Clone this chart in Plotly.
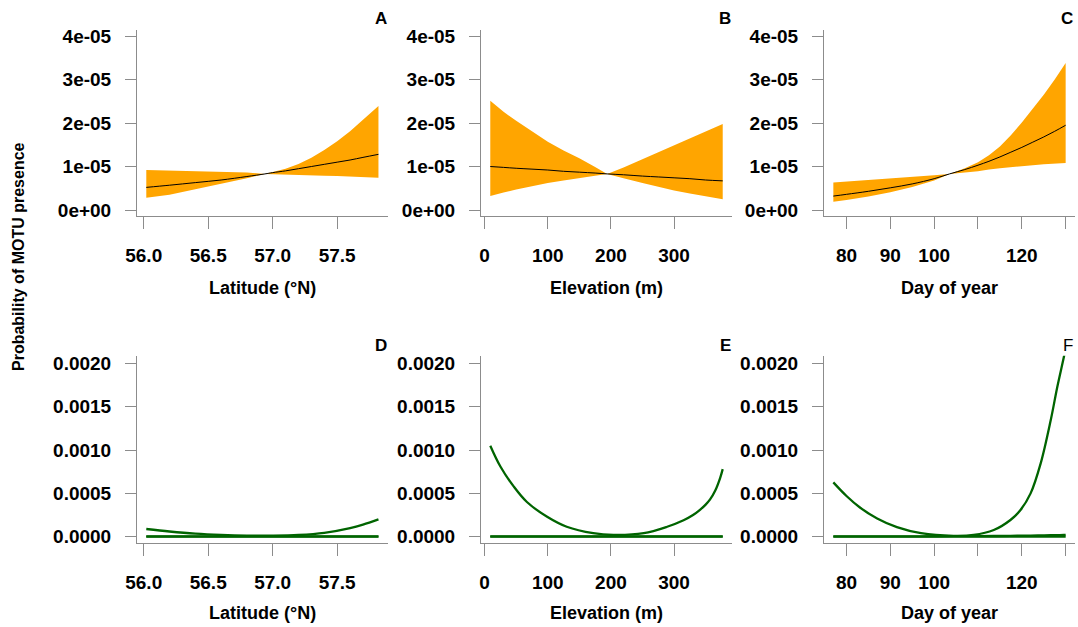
import plotly.graph_objects as go

W, H = 1078, 627

# ---------------- data ----------------
# Top row: probability of presence (mean with 95% CI), units 1e-05
lat_a = [56.02, 56.2, 56.4, 56.6, 56.8, 56.94, 57.0, 57.1, 57.2, 57.3, 57.4, 57.5, 57.6, 57.7, 57.82]
a_mean = [0.52, 0.57, 0.63, 0.69, 0.77, 0.83, 0.86, 0.90, 0.95, 1.00, 1.05, 1.10, 1.15, 1.21, 1.28]
a_upper = [0.92, 0.91, 0.895, 0.88, 0.86, 0.83, 0.87, 0.95, 1.06, 1.20, 1.38, 1.58, 1.81, 2.07, 2.39]
a_lower = [0.28, 0.35, 0.47, 0.60, 0.73, 0.83, 0.825, 0.82, 0.81, 0.80, 0.79, 0.78, 0.77, 0.76, 0.74]

elev_b = [9, 30, 50, 75, 100, 125, 150, 175, 194, 220, 250, 275, 300, 325, 350, 377]
b_mean = [1.00, 0.98, 0.96, 0.94, 0.92, 0.89, 0.87, 0.85, 0.83, 0.81, 0.78, 0.76, 0.74, 0.72, 0.69, 0.67]
b_upper = [2.51, 2.26, 2.05, 1.80, 1.57, 1.37, 1.19, 0.99, 0.83, 0.98, 1.17, 1.33, 1.50, 1.66, 1.82, 1.98]
b_lower = [0.32, 0.40, 0.47, 0.55, 0.62, 0.68, 0.74, 0.79, 0.83, 0.73, 0.62, 0.53, 0.45, 0.38, 0.31, 0.25]

day_c = [77, 80, 85, 90, 95, 100, 103.5, 107, 110, 112.5, 115, 117.5, 120, 122.5, 125, 127.5, 130]
c_mean = [0.32, 0.36, 0.43, 0.51, 0.60, 0.72, 0.83, 0.93, 1.03, 1.12, 1.22, 1.33, 1.44, 1.56, 1.68, 1.81, 1.95]
c_upper = [0.63, 0.65, 0.69, 0.73, 0.76, 0.80, 0.83, 0.96, 1.10, 1.26, 1.46, 1.72, 2.01, 2.32, 2.65, 3.00, 3.38]
c_lower = [0.19, 0.23, 0.31, 0.41, 0.53, 0.68, 0.83, 0.86, 0.89, 0.93, 0.96, 0.99, 1.01, 1.03, 1.05, 1.07, 1.08]

# Bottom row: second model (upper CI, mean, lower CI)
lat_d = [56.02, 56.2, 56.4, 56.6, 56.8, 57.0, 57.2, 57.4, 57.6, 57.7, 57.82]
d_upper = [0.000089, 0.00006, 0.000035, 0.00002, 0.000012, 0.000012, 0.00002, 0.000045, 0.0001, 0.00014, 0.0002]
d_mean = [0.000004, 0.000004, 0.000004, 0.000004, 0.000004, 0.000004, 0.000004, 0.000004, 0.000004, 0.000004, 0.000004]
d_lower = [0.0000002, 0.0000002, 0.0000002, 0.0000002, 0.0000002, 0.0000002, 0.0000002, 0.0000002, 0.0000002, 0.0000002, 0.0000002]

elev_e = [9, 25, 46, 67, 99, 130, 172, 204, 252, 289, 315, 330, 341, 350, 357, 365, 373, 377]
e_upper = [0.00105, 0.00081, 0.00058, 0.0004, 0.00023, 0.000115, 0.00004, 0.00002, 0.00004, 0.000115, 0.00019, 0.00025, 0.00031, 0.00037, 0.00043, 0.00053, 0.00068, 0.00078]
e_mean = [0.000005, 0.000005, 0.000005, 0.000005, 0.000005, 0.000005, 0.000005, 0.000005, 0.000005, 0.000005, 0.000005, 0.000005, 0.000005, 0.000005, 0.000005, 0.000005, 0.000005, 0.000005]
e_lower = [0.0000002, 0.0000002, 0.0000002, 0.0000002, 0.0000002, 0.0000002, 0.0000002, 0.0000002, 0.0000002, 0.0000002, 0.0000002, 0.0000002, 0.0000002, 0.0000002, 0.0000002, 0.0000002, 0.0000002, 0.0000002]

day_f = [77, 80, 83, 87, 91.5, 97, 104.4, 109, 113.6, 117.4, 119.7, 122, 124.3, 126.6, 128.1, 129.6, 130]
f_upper = [0.000627, 0.00047, 0.00034, 0.00021, 0.00011, 0.00004, 0.00001, 0.00002, 0.000077, 0.000193, 0.000308, 0.0005, 0.000846, 0.001346, 0.00173, 0.002076, 0.00218]
f_mean = [0.000003, 0.000003, 0.000003, 0.000004, 0.000004, 0.000005, 0.000006, 0.000007, 0.000008, 0.00001, 0.000012, 0.000013, 0.000015, 0.000017, 0.000018, 0.00002, 0.00002]
f_lower = [0.0000002, 0.0000002, 0.0000002, 0.0000002, 0.0000002, 0.0000002, 0.0000002, 0.0000002, 0.0000002, 0.0000002, 0.0000002, 0.0000002, 0.0000002, 0.0000002, 0.0000002, 0.0000002, 0.0000002]

x_titles = ["Latitude (°N)", "Elevation (m)", "Day of year"]
panel_letters = ["A", "B", "C", "D", "E", "F"]
y_title = "Probability of MOTU presence"

top_ticks = [0, 1e-5, 2e-5, 3e-5, 4e-5]
top_ticktext = ["0e+00", "1e-05", "2e-05", "3e-05", "4e-05"]
bot_ticks = [0, 0.0005, 0.001, 0.0015, 0.002]
bot_ticktext = ["0.0000", "0.0005", "0.0010", "0.0015", "0.0020"]

x_ticks = [[56.0, 56.5, 57.0, 57.5], [0, 100, 200, 300], [80, 90, 100, 110, 120, 130]]
x_ticktext = [["56.0", "56.5", "57.0", "57.5"], ["0", "100", "200", "300"], ["80", "90", "100", "", "120", ""]]
x_ranges = [[55.948, 57.894], [-5.7, 391.7], [74.87, 132.13]]

# ---------------- layout geometry (pixels) ----------------
col_px = [(137, 388), (481, 732), (824, 1075)]
row_px = [(30, 216.3), (355.7, 543.3)]
y_ranges = [[-0.145e-5, 4.14e-5], [-0.000076, 0.002088]]

ORANGE = "#FFA500"
GREEN = "#006400"
AXC = "#8c8c8c"
FONT = "Liberation Sans"

fig = go.Figure()


def axname(i):
    return "" if i == 1 else str(i)


top_data = [(lat_a, a_mean, a_upper, a_lower), (elev_b, b_mean, b_upper, b_lower), (day_c, c_mean, c_upper, c_lower)]
bot_data = [(lat_d, d_mean, d_upper, d_lower), (elev_e, e_mean, e_upper, e_lower), (day_f, f_mean, f_upper, f_lower)]

for r in range(2):
    for c in range(3):
        i = r * 3 + c + 1
        xa, ya = "x" + axname(i), "y" + axname(i)
        if r == 0:
            xs, m, up, lo = top_data[c]
            poly_x = list(xs) + list(xs)[::-1]
            poly_y = [v * 1e-5 for v in up] + [v * 1e-5 for v in lo][::-1]
            fig.add_trace(go.Scatter(x=poly_x, y=poly_y, fill="toself", fillcolor=ORANGE,
                                     line=dict(width=0, color=ORANGE), mode="lines",
                                     xaxis=xa, yaxis=ya, showlegend=False, hoverinfo="skip"))
            fig.add_trace(go.Scatter(x=xs, y=[v * 1e-5 for v in m], mode="lines",
                                     line=dict(color="black", width=1, shape="spline"),
                                     xaxis=xa, yaxis=ya, showlegend=False))
        else:
            xs, m, up, lo = bot_data[c]
            for series in (lo, m, up):
                fig.add_trace(go.Scatter(x=xs, y=series, mode="lines",
                                         line=dict(color=GREEN, width=2.3, shape="spline"),
                                         xaxis=xa, yaxis=ya, showlegend=False))
        x0, x1 = col_px[c]
        y0, y1 = row_px[r]
        fig.layout["xaxis" + axname(i)] = dict(
            domain=[x0 / W, x1 / W], anchor=ya, range=x_ranges[c], automargin=False,
            tickmode="array", tickvals=x_ticks[c], ticktext=x_ticktext[c],
            ticks="outside", ticklen=12, tickcolor=AXC, tickwidth=1,
            showline=True, linecolor=AXC, linewidth=1, showgrid=False, zeroline=False,
            tickfont=dict(family=FONT, size=19, color="black", weight="bold"),
            ticklabelstandoff=10)
        fig.layout["yaxis" + axname(i)] = dict(
            domain=[1 - y1 / H, 1 - y0 / H], anchor=xa, range=y_ranges[r], automargin=False,
            tickmode="array", tickvals=top_ticks if r == 0 else bot_ticks,
            ticktext=top_ticktext if r == 0 else bot_ticktext,
            ticks="outside", ticklen=11, tickcolor=AXC, tickwidth=1,
            showline=True, linecolor=AXC, linewidth=1, showgrid=False, zeroline=False,
            tickfont=dict(family=FONT, size=19, color="black", weight="bold"),
            ticklabelstandoff=10)

annotations = []
title_y = [287.7, 613.3]
for r in range(2):
    for c in range(3):
        x0, x1 = col_px[c]
        annotations.append(dict(text=x_titles[c], x=(x0 + x1) / 2 / W, y=1 - title_y[r] / H,
                                xref="paper", yref="paper", xanchor="center", yanchor="middle",
                                showarrow=False,
                                font=dict(family=FONT, size=18, color="black", weight="bold")))

letter_pos = [(381, 19), (725, 19), (1067, 19), (381, 345), (725, 345), (1068, 345)]
for k, (lx, ly) in enumerate(letter_pos):
    annotations.append(dict(text=panel_letters[k], x=lx / W, y=1 - ly / H, xref="paper", yref="paper",
                            xanchor="center", yanchor="middle", showarrow=False,
                            font=dict(family=FONT, size=17, color="black",
                                      weight="normal" if panel_letters[k] == "F" else "bold")))

annotations.append(dict(text=y_title, x=18 / W, y=1 - 257 / H, xref="paper", yref="paper",
                        xanchor="center", yanchor="middle", textangle=-90, showarrow=False,
                        font=dict(family=FONT, size=16, color="black", weight="bold")))

fig.update_layout(width=W, height=H, margin=dict(l=0, r=0, t=0, b=0, autoexpand=False),
                  paper_bgcolor="white", plot_bgcolor="white",
                  annotations=annotations, showlegend=False)

fig.write_html("out.html", config={"displayModeBar": False},
               post_script="document.body.style.margin='0';")
